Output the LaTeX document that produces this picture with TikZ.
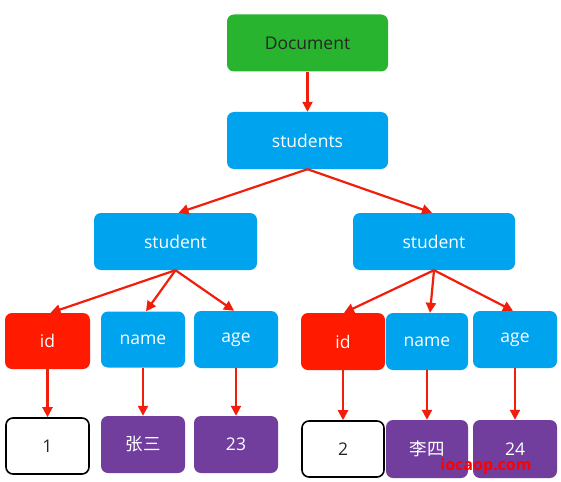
\documentclass[tikz,border=0pt]{standalone}
\usepackage{fontspec}
\setmainfont{Open Sans}
\newfontfamily\cjk{Noto Sans CJK SC}
\usetikzlibrary{arrows.meta}
\definecolor{docgreen}{HTML}{29B42F}
\definecolor{nodeblue}{HTML}{00A3EE}
\definecolor{idred}{HTML}{FF1A00}
\definecolor{valpurple}{HTML}{713E9E}
\definecolor{arrowred}{HTML}{F01E0A}
\tikzset{
  box/.style={rounded corners=7pt, inner sep=0pt, font=\fontsize{17.5}{20}\selectfont, text=white},
  bigbox/.style={box, minimum width=161pt, minimum height=57pt},
  smallbox/.style={box, minimum width=84pt, minimum height=57pt},
  valbox/.style={smallbox, draw=black, line width=1.6pt, fill=white, text=black!85},
  conn/.style={draw=arrowred, line width=2.2pt, -{Triangle[length=10pt,width=10pt]}}
}
\begin{document}
\begin{tikzpicture}[x=1pt,y=-1pt]
\useasboundingbox[fill=white] (0,0) rectangle (561,481);
\node[bigbox, fill=docgreen, text=black!85] (doc) at (307.5,43) {Document};
\node[bigbox, fill=nodeblue] (sts) at (307.5,140.5) {students};
\node[bigbox, minimum width=163pt, fill=nodeblue] (s1) at (175.5,241.5) {student};
\node[bigbox, minimum width=162pt, fill=nodeblue] (s2) at (434,241.5) {student};
\node[smallbox, minimum width=85pt, minimum height=56pt, fill=idred] (id1) at (47.5,341) {id};
\node[smallbox, minimum height=56pt, fill=nodeblue] (n1) at (143,339.5) {name};
\node[smallbox, minimum height=57pt, fill=nodeblue] (a1) at (236,339.5) {age};
\node[smallbox, minimum height=57pt, fill=idred] (id2) at (343,341.5) {id};
\node[smallbox, minimum width=82pt, minimum height=57pt, fill=nodeblue] (n2) at (427,341.5) {name};
\node[smallbox, minimum height=57pt, fill=nodeblue] (a2) at (515,339.5) {age};
\node[valbox, minimum width=83pt, minimum height=56pt] (v1) at (47.5,446) {1};
\node[smallbox, minimum height=57pt, fill=valpurple] (v2) at (143,444.5) {\cjk 张三};
\node[smallbox, minimum height=57pt, fill=valpurple] (v3) at (236,444.5) {23};
\node[valbox, minimum width=82pt, minimum height=56pt] (v4) at (343,449) {2};
\node[smallbox, minimum width=82pt, minimum height=58pt, fill=valpurple] (v5) at (427,449) {\cjk 李四};
\node[smallbox, minimum height=58pt, fill=valpurple] (v6) at (515,449) {24};
\node[text=red, font=\fontsize{16}{18}\selectfont\bfseries, inner sep=0pt] (wm) at (486,466) {iocaop.com};
\draw[conn] (doc.south) -- (sts.north);
\draw[conn] (sts.south) -- ([xshift=3pt]s1.north);
\draw[conn] (sts.south) -- ([xshift=-2pt]s2.north);
\draw[conn] (s1.south) -- ([xshift=3pt]id1.north);
\draw[conn] (s1.south) -- ([xshift=3pt]n1.north);
\draw[conn] (s1.south) -- ([xshift=-2pt]a1.north);
\draw[conn] (s2.south) -- ([xshift=1pt]id2.north);
\draw[conn] (s2.south) -- ([xshift=3pt]n2.north);
\draw[conn] (s2.south) -- ([xshift=-2pt]a2.north);
\draw[conn] (id1.south) -- (v1.north);
\draw[conn] (n1.south) -- (v2.north);
\draw[conn] (a1.south) -- (v3.north);
\draw[conn] (id2.south) -- (v4.north);
\draw[conn] (n2.south) -- (v5.north);
\draw[conn] (a2.south) -- (v6.north);
\end{tikzpicture}
\end{document}
